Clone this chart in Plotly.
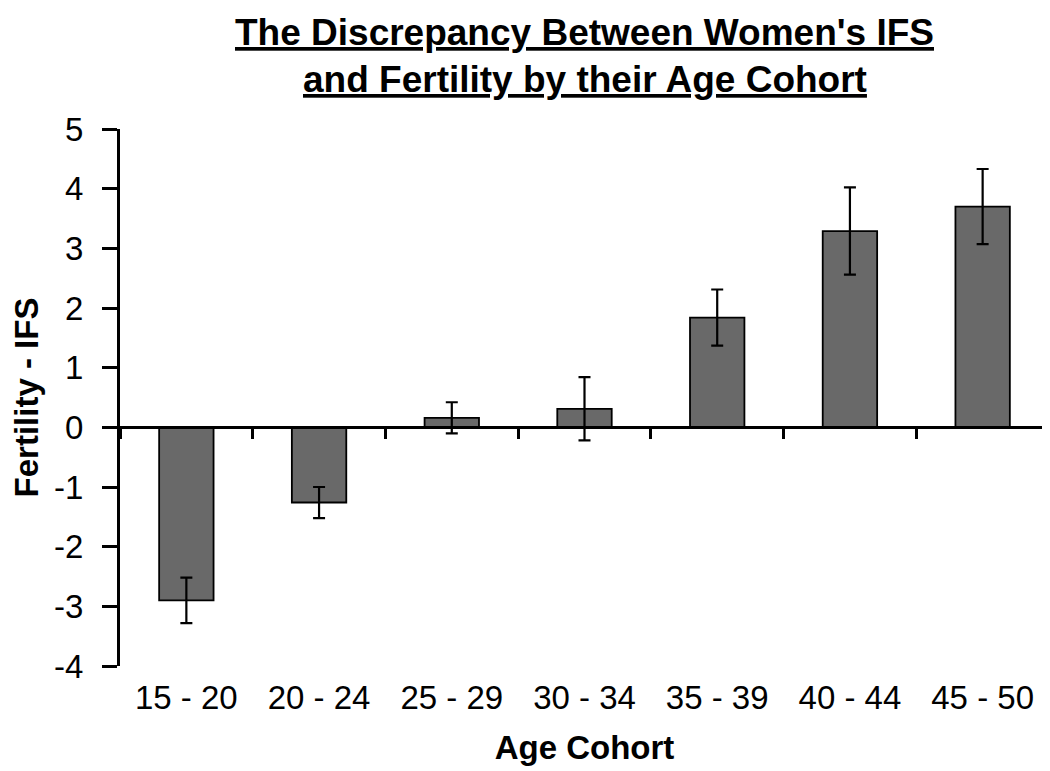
import plotly.graph_objects as go

categories = ["15 - 20", "20 - 24", "25 - 29", "30 - 34", "35 - 39", "40 - 44", "45 - 50"]
values = [-2.90, -1.26, 0.16, 0.31, 1.84, 3.29, 3.70]
errors = [0.38, 0.26, 0.26, 0.53, 0.47, 0.73, 0.63]
y_ticks = [-4, -3, -2, -1, 0, 1, 2, 3, 4, 5]
y_tick_labels = ["-4", "-3", "-2", "-1", "0", "1", "2", "3", "4", "5"]
title_lines = ["The Discrepancy Between Women's IFS", "and Fertility by their Age Cohort"]

FONT = "Liberation Sans, Arial, sans-serif"
y_min, y_max = -4, 5
plot_top, plot_bottom = 121, 658
plot_h = plot_bottom - plot_top

fig = go.Figure()
fig.add_trace(go.Bar(
    x=categories,
    y=values,
    width=0.41,
    marker=dict(color="#696969", line=dict(color="black", width=1.8)),
    error_y=dict(type="data", array=errors, visible=True, color="black",
                 thickness=2.2, width=6),
    showlegend=False,
))

zero_frac = (0 - y_min) / (y_max - y_min)
# distance (px) from the zero line down to the labels row
label_drop = plot_h * zero_frac + 2

title_centers_px = [25, 71]
annotations = [
    dict(
        text=f"<b><u>{line}</u></b>",
        xref="paper", yref="paper", x=0.5, xanchor="center",
        y=1 + (plot_top - cy) / plot_h, yanchor="middle",
        showarrow=False, font=dict(family=FONT, size=37, color="black"),
    )
    for line, cy in zip(title_lines, title_centers_px)
]

fig.update_layout(
    width=1050, height=771,
    margin=dict(l=112, r=9, t=plot_top, b=771 - plot_bottom),
    paper_bgcolor="white", plot_bgcolor="white",
    font=dict(family=FONT, color="black", size=33),
    annotations=annotations,
    xaxis=dict(
        type="category",
        anchor="free", position=zero_frac, side="bottom",
        showline=True, linewidth=3, linecolor="black",
        ticks="outside", tickson="boundaries", ticklen=10, tickwidth=3, tickcolor="black",
        showgrid=False, zeroline=False,
        tickfont=dict(size=33),
        ticklabelstandoff=int(label_drop),
        title=dict(text="<b>Age Cohort</b>", font=dict(size=33), standoff=20),
    ),
    yaxis=dict(
        range=[y_min, y_max],
        tickmode="array", tickvals=y_ticks, ticktext=y_tick_labels,
        showline=True, linewidth=3, linecolor="black",
        ticks="outside", ticklen=15, tickwidth=3, tickcolor="black",
        showgrid=False, zeroline=False,
        tickfont=dict(size=33),
        ticklabelstandoff=12,
        title=dict(text="<b>Fertility - IFS</b>", font=dict(size=33), standoff=6),
    ),
)

fig.write_html("out.html")
